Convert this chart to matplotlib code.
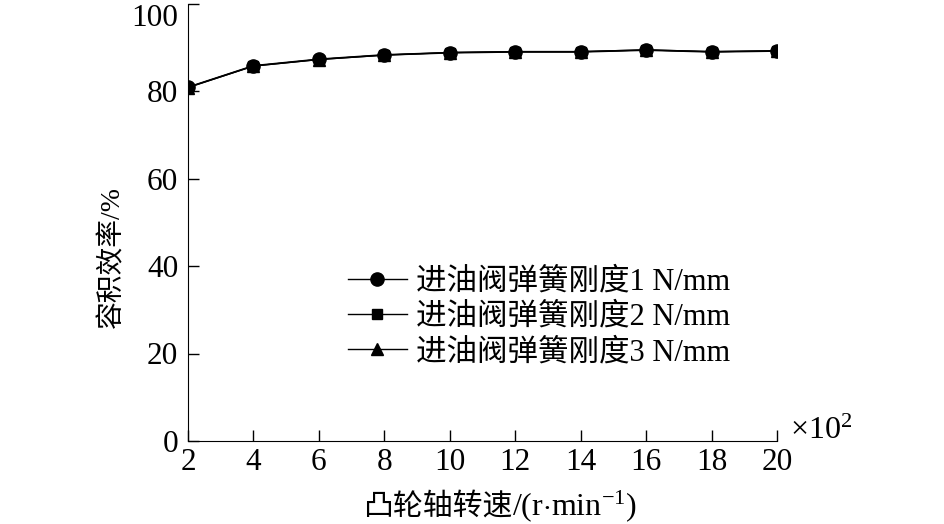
import matplotlib
matplotlib.use('Agg')
import matplotlib.pyplot as plt
import matplotlib.transforms as mtransforms

plt.rcParams['font.family'] = ['Liberation Serif', 'Noto Sans CJK SC']
plt.rcParams['mathtext.fontset'] = 'custom'
plt.rcParams['mathtext.rm'] = 'Liberation Serif'
plt.rcParams['mathtext.it'] = 'Liberation Serif:italic'

# speed (x10^2 r/min) and volumetric efficiency (%)
speed = [2, 4, 6, 8, 10, 12, 14, 16, 18, 20]
eff_k1 = [80.9, 85.8, 87.3, 88.3, 88.8, 89.0, 89.0, 89.4, 89.0, 89.2]
eff_k2 = [80.8, 85.7, 87.2, 88.2, 88.8, 89.0, 89.0, 89.4, 89.0, 89.2]
eff_k3 = [80.8, 85.7, 87.2, 88.2, 88.7, 88.9, 88.9, 89.3, 88.9, 89.1]
labels = ['进油阀弹簧刚度1 N/mm', '进油阀弹簧刚度2 N/mm', '进油阀弹簧刚度3 N/mm']

W, H = 944, 524
fig = plt.figure(figsize=(W / 100, H / 100), dpi=100)
ax = fig.add_axes([188 / W, 1 - 441 / H, 589 / W, 437.5 / H])

ax.plot(speed, eff_k1, '-o', color='black', lw=1, ms=9.5, label=labels[0])
ax.plot(speed, eff_k2, '-s', color='black', lw=1, ms=7.5, label=labels[1])
ax.plot(speed, eff_k3, '-^', color='black', lw=1, ms=8.5, label=labels[2])

ax.set_xlim(2, 20)
ax.set_ylim(0, 100)
ax.set_xticks(range(2, 21, 2))
ax.set_yticks(range(0, 101, 20))
ax.spines['top'].set_visible(False)
ax.spines['right'].set_visible(False)
ax.tick_params(direction='in', length=8, width=1, labelsize=22.5)
ax.tick_params(axis='x', pad=5)
ax.tick_params(axis='y', pad=7)

# top label sits a bit lower in the original
fig.canvas.draw()
lab100 = ax.get_yticklabels()[-1]
lab100.set_transform(lab100.get_transform() +
                     mtransforms.ScaledTranslation(0, -8 / 72, fig.dpi_scale_trans))

ax.set_ylabel('容积效率/%', fontsize=20)
ax.yaxis.set_label_coords(-0.107, 0.42)

# x label: CJK part and latin part with superscript
fig.text(512 / W, 1 - 515 / H, '凸轮轴转速', fontsize=21.5,
         family='Noto Sans CJK SC', ha='right', va='baseline')
fig.text(512 / W, 1 - 515 / H, '/(r$\\cdot$min$^{-1}$)', fontsize=23,
         family='Liberation Serif', ha='left', va='baseline')

ax.text(790 / W, 1 - 439 / H, '$\\times$10$^{2}$', transform=fig.transFigure,
        fontsize=23, family='Liberation Serif', ha='left', va='baseline')

ax.legend(loc='upper left', bbox_to_anchor=(0.2716, 0.396), frameon=False,
          fontsize=22, borderpad=0, borderaxespad=0, handlelength=1.93,
          handletextpad=0.3, labelspacing=0.2)

fig.savefig('out.png', dpi=100)
